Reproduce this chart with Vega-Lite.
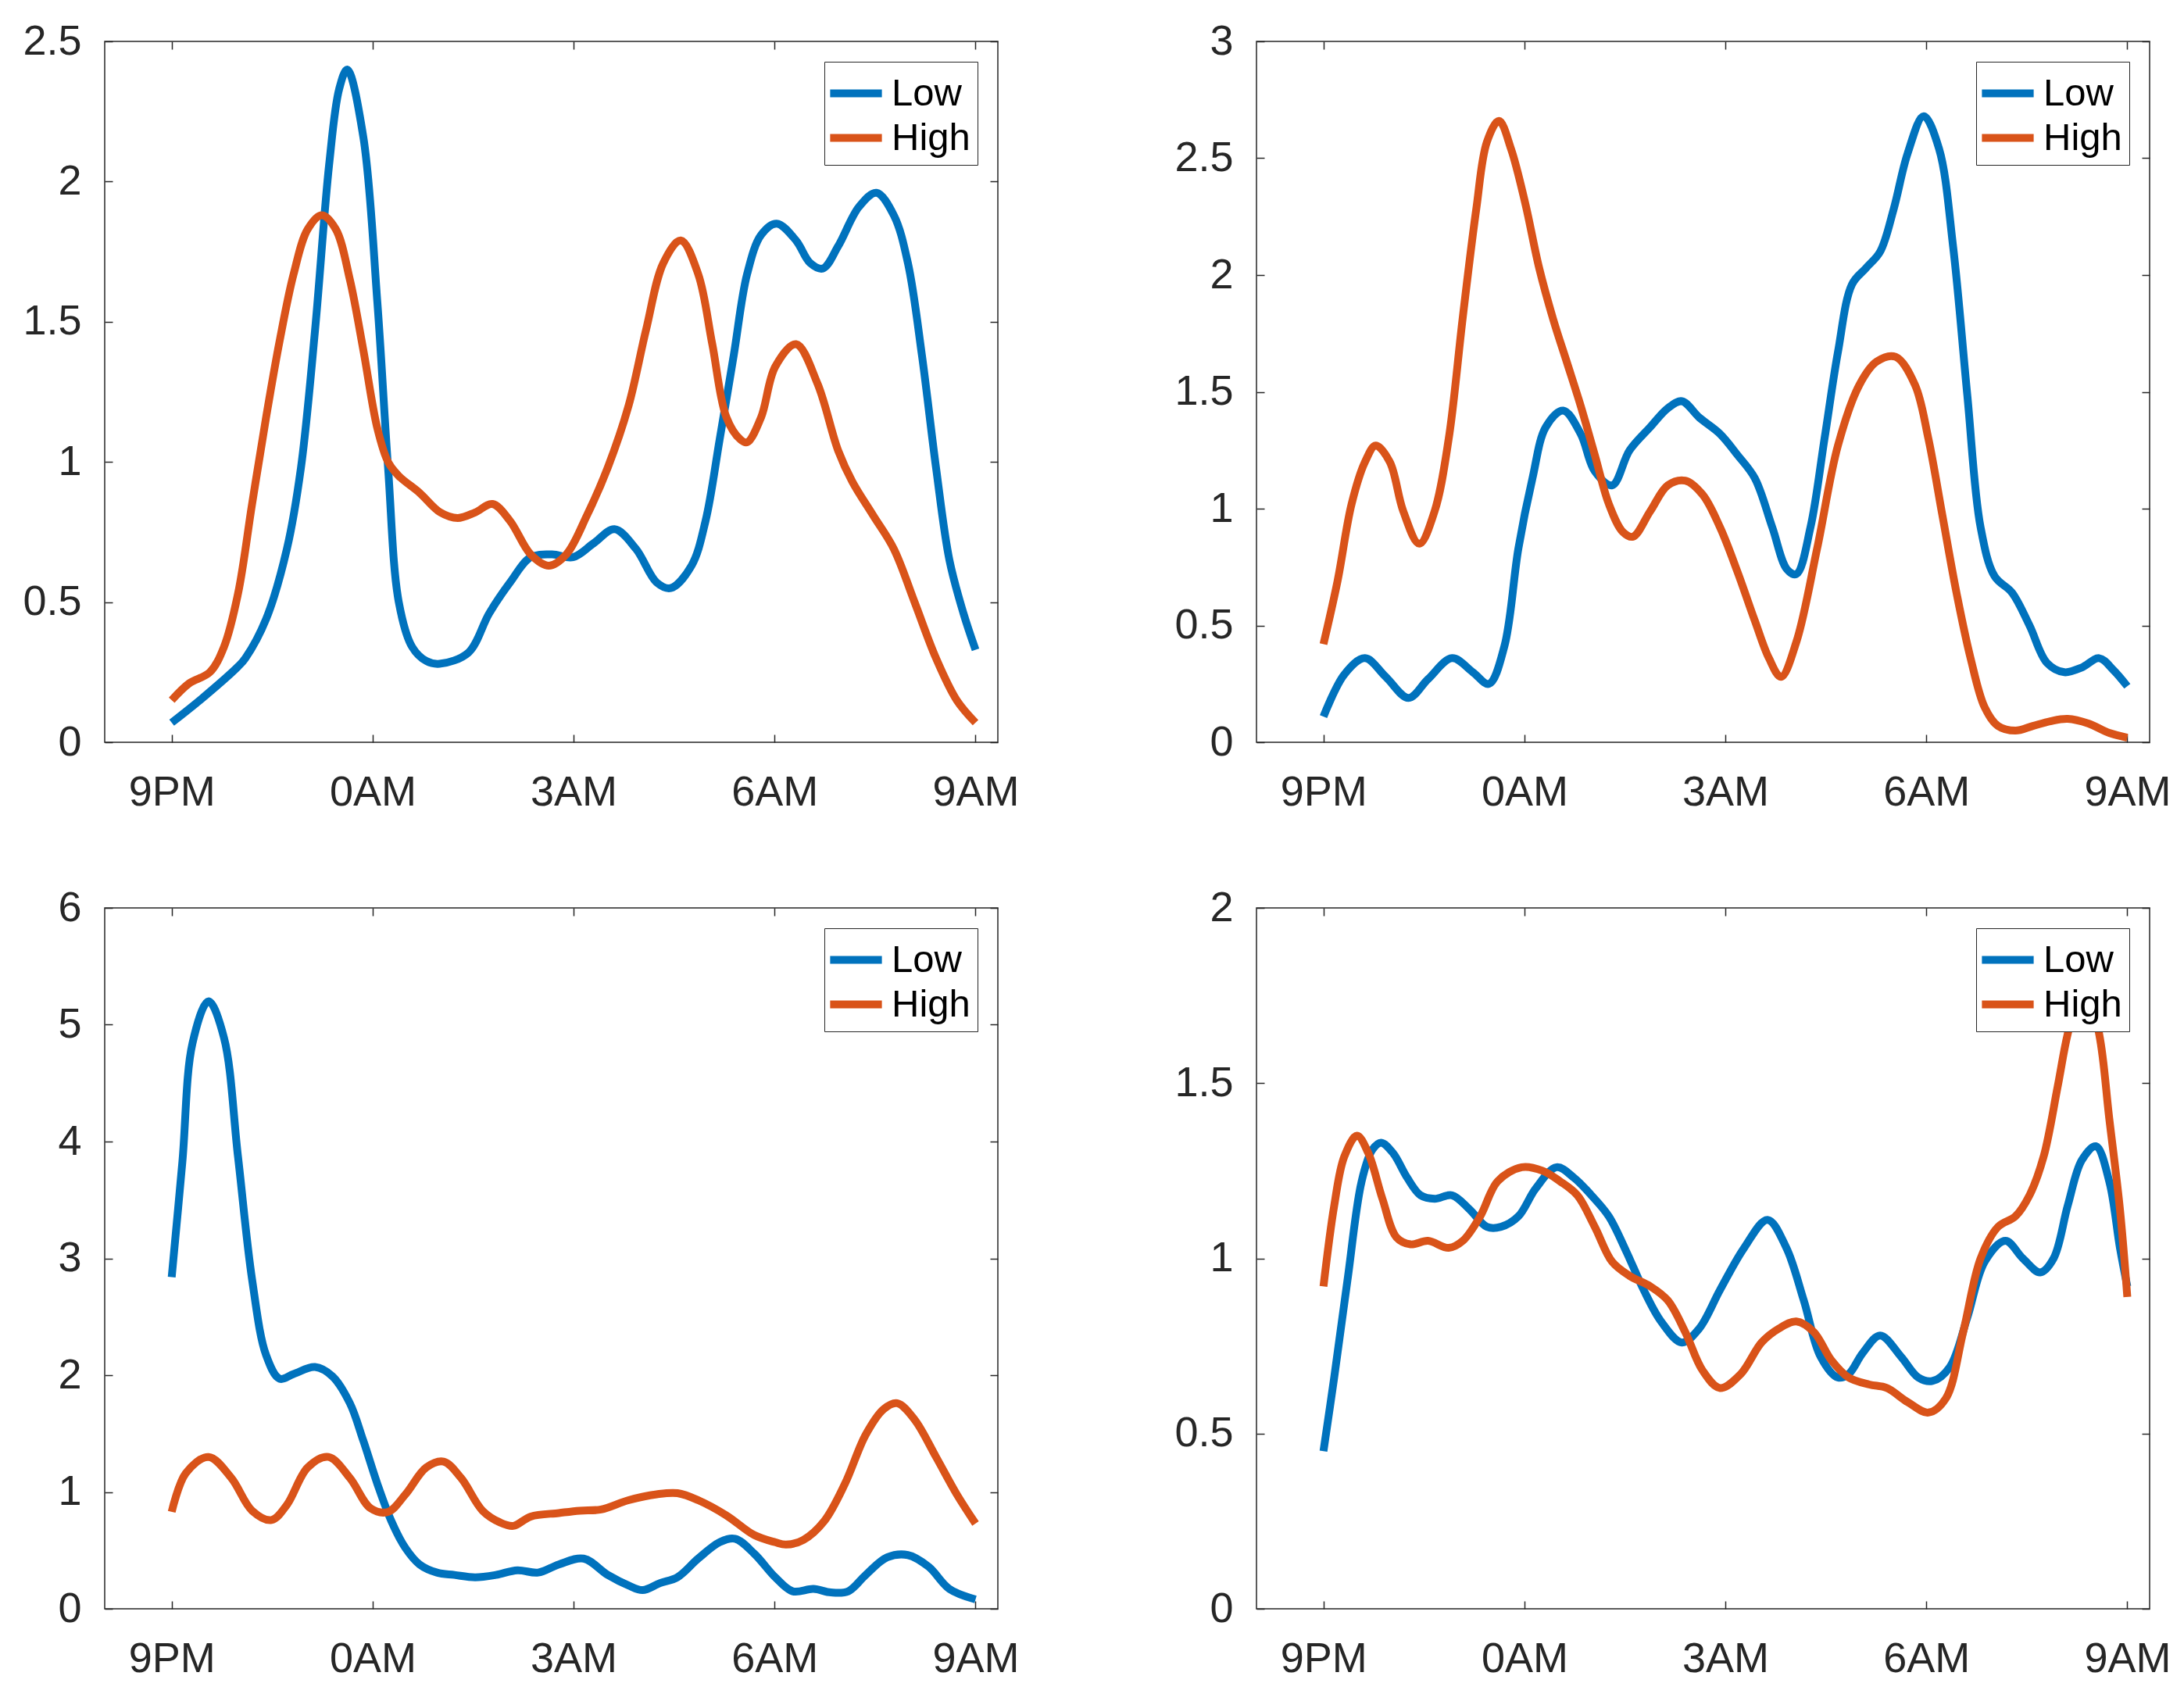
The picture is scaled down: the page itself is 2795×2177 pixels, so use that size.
{
  "$schema": "https://vega.github.io/schema/vega-lite/v6.json",
  "padding": {"left": 28, "top": 25, "right": 5, "bottom": 5},
  "background": "white",
  "bounds": "flush",
  "columns": 2,
  "spacing": {"row": 212, "column": 331},
  "resolve": {"scale": {"color": "independent"}},
  "config": {
    "font": "Liberation Sans",
    "view": {"stroke": "#262626", "strokeWidth": 1.5},
    "axis": {
      "domain": false,
      "grid": false,
      "tickSize": -10,
      "tickColor": "#262626",
      "tickWidth": 1.5,
      "labelFont": "Liberation Sans",
      "labelFontSize": 54,
      "labelColor": "#262626",
      "labelPadding": 40,
      "title": null
    },
    "axisX": {"labelPadding": 47},
    "legend": {
      "orient": "top-right",
      "offset": 26,
      "padding": 9,
      "strokeColor": "#262626",
      "fillColor": "white",
      "symbolType": "M-1.25,0H1.25",
      "symbolStrokeWidth": 10,
      "symbolSize": 2809,
      "labelFont": "Liberation Sans",
      "labelFontSize": 49,
      "labelColor": "black",
      "labelOffset": 14,
      "rowPadding": 0,
      "title": null
    }
  },
  "datasets": {
    "curves": [
      {"p":"a","s":"Low","h":0,"v":0.07},{"p":"a","s":"Low","h":0.47,"v":0.16},{"p":"a","s":"Low","h":0.99,"v":0.27},{"p":"a","s":"Low","h":1.1,"v":0.3},{"p":"a","s":"Low","h":1.41,"v":0.44},{"p":"a","s":"Low","h":1.72,"v":0.69},{"p":"a","s":"Low","h":1.93,"v":0.98},{"p":"a","s":"Low","h":2.14,"v":1.47},{"p":"a","s":"Low","h":2.35,"v":2.06},{"p":"a","s":"Low","h":2.5,"v":2.33},{"p":"a","s":"Low","h":2.62,"v":2.4},{"p":"a","s":"Low","h":2.86,"v":2.16},{"p":"a","s":"Low","h":3.07,"v":1.57},{"p":"a","s":"Low","h":3.23,"v":0.98},{"p":"a","s":"Low","h":3.39,"v":0.5},{"p":"a","s":"Low","h":3.59,"v":0.34},{"p":"a","s":"Low","h":3.8,"v":0.29},{"p":"a","s":"Low","h":4.0,"v":0.28},{"p":"a","s":"Low","h":4.43,"v":0.32},{"p":"a","s":"Low","h":4.74,"v":0.46},{"p":"a","s":"Low","h":5.05,"v":0.57},{"p":"a","s":"Low","h":5.36,"v":0.66},{"p":"a","s":"Low","h":5.68,"v":0.67},{"p":"a","s":"Low","h":5.99,"v":0.66},{"p":"a","s":"Low","h":6.3,"v":0.71},{"p":"a","s":"Low","h":6.61,"v":0.76},{"p":"a","s":"Low","h":6.93,"v":0.69},{"p":"a","s":"Low","h":7.24,"v":0.57},{"p":"a","s":"Low","h":7.45,"v":0.55},{"p":"a","s":"Low","h":7.76,"v":0.63},{"p":"a","s":"Low","h":7.97,"v":0.79},{"p":"a","s":"Low","h":8.18,"v":1.08},{"p":"a","s":"Low","h":8.39,"v":1.38},{"p":"a","s":"Low","h":8.59,"v":1.67},{"p":"a","s":"Low","h":8.8,"v":1.81},{"p":"a","s":"Low","h":9.03,"v":1.85},{"p":"a","s":"Low","h":9.32,"v":1.79},{"p":"a","s":"Low","h":9.53,"v":1.71},{"p":"a","s":"Low","h":9.72,"v":1.69},{"p":"a","s":"Low","h":9.95,"v":1.77},{"p":"a","s":"Low","h":10.26,"v":1.91},{"p":"a","s":"Low","h":10.52,"v":1.96},{"p":"a","s":"Low","h":10.78,"v":1.88},{"p":"a","s":"Low","h":10.99,"v":1.71},{"p":"a","s":"Low","h":11.2,"v":1.38},{"p":"a","s":"Low","h":11.41,"v":0.98},{"p":"a","s":"Low","h":11.61,"v":0.65},{"p":"a","s":"Low","h":11.82,"v":0.46},{"p":"a","s":"Low","h":12.0,"v":0.33},
      {"p":"a","s":"High","h":0,"v":0.15},{"p":"a","s":"High","h":0.26,"v":0.21},{"p":"a","s":"High","h":0.57,"v":0.25},{"p":"a","s":"High","h":0.78,"v":0.34},{"p":"a","s":"High","h":0.99,"v":0.53},{"p":"a","s":"High","h":1.2,"v":0.85},{"p":"a","s":"High","h":1.41,"v":1.16},{"p":"a","s":"High","h":1.61,"v":1.43},{"p":"a","s":"High","h":1.82,"v":1.67},{"p":"a","s":"High","h":2.03,"v":1.83},{"p":"a","s":"High","h":2.24,"v":1.88},{"p":"a","s":"High","h":2.45,"v":1.83},{"p":"a","s":"High","h":2.66,"v":1.65},{"p":"a","s":"High","h":2.86,"v":1.4},{"p":"a","s":"High","h":3.07,"v":1.12},{"p":"a","s":"High","h":3.23,"v":1.0},{"p":"a","s":"High","h":3.39,"v":0.95},{"p":"a","s":"High","h":3.7,"v":0.89},{"p":"a","s":"High","h":4.01,"v":0.82},{"p":"a","s":"High","h":4.27,"v":0.8},{"p":"a","s":"High","h":4.53,"v":0.82},{"p":"a","s":"High","h":4.79,"v":0.85},{"p":"a","s":"High","h":5.05,"v":0.79},{"p":"a","s":"High","h":5.36,"v":0.67},{"p":"a","s":"High","h":5.63,"v":0.63},{"p":"a","s":"High","h":5.89,"v":0.67},{"p":"a","s":"High","h":6.2,"v":0.81},{"p":"a","s":"High","h":6.51,"v":0.98},{"p":"a","s":"High","h":6.82,"v":1.2},{"p":"a","s":"High","h":7.08,"v":1.47},{"p":"a","s":"High","h":7.34,"v":1.71},{"p":"a","s":"High","h":7.6,"v":1.79},{"p":"a","s":"High","h":7.86,"v":1.67},{"p":"a","s":"High","h":8.07,"v":1.42},{"p":"a","s":"High","h":8.28,"v":1.16},{"p":"a","s":"High","h":8.49,"v":1.08},{"p":"a","s":"High","h":8.59,"v":1.07},{"p":"a","s":"High","h":8.8,"v":1.16},{"p":"a","s":"High","h":9.01,"v":1.34},{"p":"a","s":"High","h":9.32,"v":1.42},{"p":"a","s":"High","h":9.64,"v":1.28},{"p":"a","s":"High","h":9.95,"v":1.04},{"p":"a","s":"High","h":10.16,"v":0.93},{"p":"a","s":"High","h":10.47,"v":0.81},{"p":"a","s":"High","h":10.78,"v":0.69},{"p":"a","s":"High","h":11.09,"v":0.5},{"p":"a","s":"High","h":11.41,"v":0.3},{"p":"a","s":"High","h":11.72,"v":0.15},{"p":"a","s":"High","h":12.0,"v":0.07},
      {"p":"b","s":"Low","h":0,"v":0.11},{"p":"b","s":"Low","h":0.31,"v":0.29},{"p":"b","s":"Low","h":0.62,"v":0.36},{"p":"b","s":"Low","h":0.93,"v":0.28},{"p":"b","s":"Low","h":1.27,"v":0.19},{"p":"b","s":"Low","h":1.56,"v":0.27},{"p":"b","s":"Low","h":1.92,"v":0.36},{"p":"b","s":"Low","h":2.23,"v":0.3},{"p":"b","s":"Low","h":2.47,"v":0.25},{"p":"b","s":"Low","h":2.7,"v":0.41},{"p":"b","s":"Low","h":2.91,"v":0.83},{"p":"b","s":"Low","h":3.12,"v":1.13},{"p":"b","s":"Low","h":3.32,"v":1.35},{"p":"b","s":"Low","h":3.58,"v":1.42},{"p":"b","s":"Low","h":3.84,"v":1.32},{"p":"b","s":"Low","h":4.05,"v":1.16},{"p":"b","s":"Low","h":4.31,"v":1.1},{"p":"b","s":"Low","h":4.57,"v":1.25},{"p":"b","s":"Low","h":4.88,"v":1.35},{"p":"b","s":"Low","h":5.14,"v":1.43},{"p":"b","s":"Low","h":5.35,"v":1.46},{"p":"b","s":"Low","h":5.61,"v":1.39},{"p":"b","s":"Low","h":5.92,"v":1.32},{"p":"b","s":"Low","h":6.18,"v":1.23},{"p":"b","s":"Low","h":6.44,"v":1.13},{"p":"b","s":"Low","h":6.7,"v":0.92},{"p":"b","s":"Low","h":6.92,"v":0.74},{"p":"b","s":"Low","h":7.06,"v":0.72},{"p":"b","s":"Low","h":7.27,"v":0.92},{"p":"b","s":"Low","h":7.48,"v":1.3},{"p":"b","s":"Low","h":7.68,"v":1.67},{"p":"b","s":"Low","h":7.89,"v":1.96},{"p":"b","s":"Low","h":8.1,"v":2.03},{"p":"b","s":"Low","h":8.31,"v":2.1},{"p":"b","s":"Low","h":8.51,"v":2.28},{"p":"b","s":"Low","h":8.72,"v":2.52},{"p":"b","s":"Low","h":8.96,"v":2.68},{"p":"b","s":"Low","h":9.19,"v":2.54},{"p":"b","s":"Low","h":9.4,"v":2.12},{"p":"b","s":"Low","h":9.61,"v":1.49},{"p":"b","s":"Low","h":9.81,"v":0.92},{"p":"b","s":"Low","h":10.02,"v":0.71},{"p":"b","s":"Low","h":10.28,"v":0.64},{"p":"b","s":"Low","h":10.54,"v":0.5},{"p":"b","s":"Low","h":10.8,"v":0.34},{"p":"b","s":"Low","h":11.06,"v":0.3},{"p":"b","s":"Low","h":11.32,"v":0.32},{"p":"b","s":"Low","h":11.58,"v":0.36},{"p":"b","s":"Low","h":11.79,"v":0.31},{"p":"b","s":"Low","h":12.0,"v":0.24},
      {"p":"b","s":"High","h":0,"v":0.42},{"p":"b","s":"High","h":0.21,"v":0.69},{"p":"b","s":"High","h":0.42,"v":1.02},{"p":"b","s":"High","h":0.62,"v":1.2},{"p":"b","s":"High","h":0.78,"v":1.27},{"p":"b","s":"High","h":0.99,"v":1.2},{"p":"b","s":"High","h":1.19,"v":0.99},{"p":"b","s":"High","h":1.43,"v":0.85},{"p":"b","s":"High","h":1.66,"v":0.99},{"p":"b","s":"High","h":1.87,"v":1.3},{"p":"b","s":"High","h":2.08,"v":1.82},{"p":"b","s":"High","h":2.28,"v":2.28},{"p":"b","s":"High","h":2.44,"v":2.57},{"p":"b","s":"High","h":2.62,"v":2.66},{"p":"b","s":"High","h":2.8,"v":2.54},{"p":"b","s":"High","h":3.01,"v":2.31},{"p":"b","s":"High","h":3.22,"v":2.03},{"p":"b","s":"High","h":3.43,"v":1.81},{"p":"b","s":"High","h":3.63,"v":1.63},{"p":"b","s":"High","h":3.84,"v":1.44},{"p":"b","s":"High","h":4.05,"v":1.23},{"p":"b","s":"High","h":4.26,"v":1.02},{"p":"b","s":"High","h":4.47,"v":0.9},{"p":"b","s":"High","h":4.62,"v":0.88},{"p":"b","s":"High","h":4.88,"v":0.99},{"p":"b","s":"High","h":5.14,"v":1.1},{"p":"b","s":"High","h":5.4,"v":1.12},{"p":"b","s":"High","h":5.66,"v":1.06},{"p":"b","s":"High","h":5.92,"v":0.92},{"p":"b","s":"High","h":6.18,"v":0.73},{"p":"b","s":"High","h":6.44,"v":0.52},{"p":"b","s":"High","h":6.65,"v":0.36},{"p":"b","s":"High","h":6.83,"v":0.28},{"p":"b","s":"High","h":7.06,"v":0.43},{"p":"b","s":"High","h":7.37,"v":0.83},{"p":"b","s":"High","h":7.68,"v":1.27},{"p":"b","s":"High","h":8.0,"v":1.53},{"p":"b","s":"High","h":8.26,"v":1.63},{"p":"b","s":"High","h":8.54,"v":1.65},{"p":"b","s":"High","h":8.83,"v":1.53},{"p":"b","s":"High","h":9.03,"v":1.3},{"p":"b","s":"High","h":9.24,"v":0.97},{"p":"b","s":"High","h":9.45,"v":0.64},{"p":"b","s":"High","h":9.66,"v":0.36},{"p":"b","s":"High","h":9.87,"v":0.15},{"p":"b","s":"High","h":10.07,"v":0.07},{"p":"b","s":"High","h":10.33,"v":0.05},{"p":"b","s":"High","h":10.59,"v":0.07},{"p":"b","s":"High","h":10.85,"v":0.09},{"p":"b","s":"High","h":11.11,"v":0.1},{"p":"b","s":"High","h":11.42,"v":0.08},{"p":"b","s":"High","h":11.73,"v":0.04},{"p":"b","s":"High","h":12.0,"v":0.02},
      {"p":"c","s":"Low","h":0,"v":2.84},{"p":"c","s":"Low","h":0.16,"v":3.83},{"p":"c","s":"Low","h":0.31,"v":4.84},{"p":"c","s":"Low","h":0.55,"v":5.2},{"p":"c","s":"Low","h":0.78,"v":4.89},{"p":"c","s":"Low","h":0.99,"v":3.87},{"p":"c","s":"Low","h":1.2,"v":2.82},{"p":"c","s":"Low","h":1.41,"v":2.17},{"p":"c","s":"Low","h":1.61,"v":1.97},{"p":"c","s":"Low","h":1.82,"v":2.01},{"p":"c","s":"Low","h":2.14,"v":2.07},{"p":"c","s":"Low","h":2.4,"v":1.99},{"p":"c","s":"Low","h":2.66,"v":1.76},{"p":"c","s":"Low","h":2.86,"v":1.44},{"p":"c","s":"Low","h":3.07,"v":1.07},{"p":"c","s":"Low","h":3.28,"v":0.75},{"p":"c","s":"Low","h":3.49,"v":0.52},{"p":"c","s":"Low","h":3.7,"v":0.38},{"p":"c","s":"Low","h":3.96,"v":0.31},{"p":"c","s":"Low","h":4.22,"v":0.29},{"p":"c","s":"Low","h":4.53,"v":0.27},{"p":"c","s":"Low","h":4.84,"v":0.29},{"p":"c","s":"Low","h":5.16,"v":0.33},{"p":"c","s":"Low","h":5.47,"v":0.31},{"p":"c","s":"Low","h":5.78,"v":0.38},{"p":"c","s":"Low","h":6.15,"v":0.43},{"p":"c","s":"Low","h":6.51,"v":0.29},{"p":"c","s":"Low","h":6.82,"v":0.2},{"p":"c","s":"Low","h":7.03,"v":0.16},{"p":"c","s":"Low","h":7.29,"v":0.22},{"p":"c","s":"Low","h":7.55,"v":0.27},{"p":"c","s":"Low","h":7.86,"v":0.43},{"p":"c","s":"Low","h":8.18,"v":0.57},{"p":"c","s":"Low","h":8.41,"v":0.6},{"p":"c","s":"Low","h":8.7,"v":0.47},{"p":"c","s":"Low","h":9.01,"v":0.27},{"p":"c","s":"Low","h":9.27,"v":0.15},{"p":"c","s":"Low","h":9.58,"v":0.17},{"p":"c","s":"Low","h":9.84,"v":0.14},{"p":"c","s":"Low","h":10.1,"v":0.15},{"p":"c","s":"Low","h":10.36,"v":0.29},{"p":"c","s":"Low","h":10.68,"v":0.44},{"p":"c","s":"Low","h":10.99,"v":0.46},{"p":"c","s":"Low","h":11.3,"v":0.36},{"p":"c","s":"Low","h":11.61,"v":0.17},{"p":"c","s":"Low","h":12.0,"v":0.08},
      {"p":"c","s":"High","h":0,"v":0.83},{"p":"c","s":"High","h":0.21,"v":1.16},{"p":"c","s":"High","h":0.55,"v":1.3},{"p":"c","s":"High","h":0.89,"v":1.12},{"p":"c","s":"High","h":1.2,"v":0.84},{"p":"c","s":"High","h":1.49,"v":0.76},{"p":"c","s":"High","h":1.72,"v":0.89},{"p":"c","s":"High","h":2.03,"v":1.21},{"p":"c","s":"High","h":2.34,"v":1.3},{"p":"c","s":"High","h":2.66,"v":1.12},{"p":"c","s":"High","h":2.97,"v":0.86},{"p":"c","s":"High","h":3.23,"v":0.83},{"p":"c","s":"High","h":3.49,"v":0.98},{"p":"c","s":"High","h":3.8,"v":1.21},{"p":"c","s":"High","h":4.06,"v":1.26},{"p":"c","s":"High","h":4.32,"v":1.12},{"p":"c","s":"High","h":4.64,"v":0.84},{"p":"c","s":"High","h":4.9,"v":0.74},{"p":"c","s":"High","h":5.1,"v":0.71},{"p":"c","s":"High","h":5.36,"v":0.79},{"p":"c","s":"High","h":5.78,"v":0.82},{"p":"c","s":"High","h":6.09,"v":0.84},{"p":"c","s":"High","h":6.41,"v":0.85},{"p":"c","s":"High","h":6.82,"v":0.93},{"p":"c","s":"High","h":7.24,"v":0.98},{"p":"c","s":"High","h":7.55,"v":0.99},{"p":"c","s":"High","h":7.86,"v":0.93},{"p":"c","s":"High","h":8.28,"v":0.8},{"p":"c","s":"High","h":8.7,"v":0.63},{"p":"c","s":"High","h":9.01,"v":0.57},{"p":"c","s":"High","h":9.17,"v":0.55},{"p":"c","s":"High","h":9.43,"v":0.59},{"p":"c","s":"High","h":9.74,"v":0.75},{"p":"c","s":"High","h":10.05,"v":1.07},{"p":"c","s":"High","h":10.36,"v":1.49},{"p":"c","s":"High","h":10.63,"v":1.71},{"p":"c","s":"High","h":10.83,"v":1.76},{"p":"c","s":"High","h":11.09,"v":1.62},{"p":"c","s":"High","h":11.41,"v":1.3},{"p":"c","s":"High","h":11.72,"v":0.98},{"p":"c","s":"High","h":12.0,"v":0.73},
      {"p":"d","s":"Low","h":0,"v":0.45},{"p":"d","s":"Low","h":0.16,"v":0.66},{"p":"d","s":"Low","h":0.36,"v":0.94},{"p":"d","s":"Low","h":0.57,"v":1.22},{"p":"d","s":"Low","h":0.73,"v":1.31},{"p":"d","s":"Low","h":0.86,"v":1.33},{"p":"d","s":"Low","h":1.04,"v":1.3},{"p":"d","s":"Low","h":1.25,"v":1.23},{"p":"d","s":"Low","h":1.45,"v":1.18},{"p":"d","s":"Low","h":1.66,"v":1.17},{"p":"d","s":"Low","h":1.92,"v":1.18},{"p":"d","s":"Low","h":2.18,"v":1.14},{"p":"d","s":"Low","h":2.44,"v":1.09},{"p":"d","s":"Low","h":2.65,"v":1.09},{"p":"d","s":"Low","h":2.91,"v":1.12},{"p":"d","s":"Low","h":3.17,"v":1.2},{"p":"d","s":"Low","h":3.48,"v":1.26},{"p":"d","s":"Low","h":3.74,"v":1.23},{"p":"d","s":"Low","h":4.0,"v":1.18},{"p":"d","s":"Low","h":4.26,"v":1.12},{"p":"d","s":"Low","h":4.52,"v":1.02},{"p":"d","s":"Low","h":4.78,"v":0.91},{"p":"d","s":"Low","h":5.04,"v":0.82},{"p":"d","s":"Low","h":5.35,"v":0.76},{"p":"d","s":"Low","h":5.61,"v":0.8},{"p":"d","s":"Low","h":5.92,"v":0.91},{"p":"d","s":"Low","h":6.28,"v":1.03},{"p":"d","s":"Low","h":6.63,"v":1.11},{"p":"d","s":"Low","h":6.91,"v":1.03},{"p":"d","s":"Low","h":7.17,"v":0.88},{"p":"d","s":"Low","h":7.42,"v":0.72},{"p":"d","s":"Low","h":7.68,"v":0.66},{"p":"d","s":"Low","h":7.84,"v":0.67},{"p":"d","s":"Low","h":8.05,"v":0.73},{"p":"d","s":"Low","h":8.31,"v":0.78},{"p":"d","s":"Low","h":8.62,"v":0.72},{"p":"d","s":"Low","h":8.88,"v":0.66},{"p":"d","s":"Low","h":9.09,"v":0.65},{"p":"d","s":"Low","h":9.35,"v":0.69},{"p":"d","s":"Low","h":9.61,"v":0.83},{"p":"d","s":"Low","h":9.87,"v":0.99},{"p":"d","s":"Low","h":10.18,"v":1.05},{"p":"d","s":"Low","h":10.44,"v":1.0},{"p":"d","s":"Low","h":10.7,"v":0.96},{"p":"d","s":"Low","h":10.9,"v":1.0},{"p":"d","s":"Low","h":11.11,"v":1.15},{"p":"d","s":"Low","h":11.32,"v":1.28},{"p":"d","s":"Low","h":11.53,"v":1.32},{"p":"d","s":"Low","h":11.73,"v":1.22},{"p":"d","s":"Low","h":11.89,"v":1.03},{"p":"d","s":"Low","h":12.0,"v":0.92},
      {"p":"d","s":"High","h":0,"v":0.92},{"p":"d","s":"High","h":0.16,"v":1.15},{"p":"d","s":"High","h":0.31,"v":1.29},{"p":"d","s":"High","h":0.5,"v":1.35},{"p":"d","s":"High","h":0.67,"v":1.3},{"p":"d","s":"High","h":0.88,"v":1.17},{"p":"d","s":"High","h":1.09,"v":1.06},{"p":"d","s":"High","h":1.3,"v":1.04},{"p":"d","s":"High","h":1.56,"v":1.05},{"p":"d","s":"High","h":1.87,"v":1.03},{"p":"d","s":"High","h":2.08,"v":1.05},{"p":"d","s":"High","h":2.34,"v":1.12},{"p":"d","s":"High","h":2.6,"v":1.22},{"p":"d","s":"High","h":2.96,"v":1.26},{"p":"d","s":"High","h":3.27,"v":1.25},{"p":"d","s":"High","h":3.53,"v":1.22},{"p":"d","s":"High","h":3.79,"v":1.18},{"p":"d","s":"High","h":4.05,"v":1.09},{"p":"d","s":"High","h":4.31,"v":0.99},{"p":"d","s":"High","h":4.57,"v":0.95},{"p":"d","s":"High","h":4.88,"v":0.92},{"p":"d","s":"High","h":5.14,"v":0.88},{"p":"d","s":"High","h":5.4,"v":0.79},{"p":"d","s":"High","h":5.66,"v":0.68},{"p":"d","s":"High","h":5.92,"v":0.63},{"p":"d","s":"High","h":6.23,"v":0.67},{"p":"d","s":"High","h":6.54,"v":0.76},{"p":"d","s":"High","h":6.8,"v":0.8},{"p":"d","s":"High","h":7.06,"v":0.82},{"p":"d","s":"High","h":7.32,"v":0.79},{"p":"d","s":"High","h":7.58,"v":0.71},{"p":"d","s":"High","h":7.84,"v":0.66},{"p":"d","s":"High","h":8.15,"v":0.64},{"p":"d","s":"High","h":8.41,"v":0.63},{"p":"d","s":"High","h":8.72,"v":0.59},{"p":"d","s":"High","h":9.03,"v":0.56},{"p":"d","s":"High","h":9.29,"v":0.6},{"p":"d","s":"High","h":9.55,"v":0.79},{"p":"d","s":"High","h":9.81,"v":1.0},{"p":"d","s":"High","h":10.07,"v":1.09},{"p":"d","s":"High","h":10.33,"v":1.12},{"p":"d","s":"High","h":10.54,"v":1.18},{"p":"d","s":"High","h":10.75,"v":1.29},{"p":"d","s":"High","h":10.96,"v":1.49},{"p":"d","s":"High","h":11.11,"v":1.64},{"p":"d","s":"High","h":11.35,"v":1.8},{"p":"d","s":"High","h":11.58,"v":1.64},{"p":"d","s":"High","h":11.73,"v":1.4},{"p":"d","s":"High","h":11.89,"v":1.14},{"p":"d","s":"High","h":12.0,"v":0.89}
    ]
  },
  "concat": [
    {
      "width": 1143, "height": 897,
      "data": {"name": "curves"},
      "transform": [{"filter": "datum.p == 'a'"}],
      "layer": [
        {
          "transform": [{"filter": "datum.s == 'Low'"}],
          "mark": {"type": "line", "interpolate": "catmull-rom", "strokeWidth": 10},
          "encoding": {
            "x": {"field": "h", "type": "quantitative", "scale": {"domain": [-1, 12.333]}, "axis": {"orient": "bottom", "values": [0, 3, 6, 9, 12], "labelExpr": "['9PM','0AM','3AM','6AM','9AM'][datum.value / 3]"}},
            "y": {"field": "v", "type": "quantitative", "scale": {"domain": [0, 2.5]}, "axis": {"orient": "left", "values": [0, 0.5, 1, 1.5, 2, 2.5], "format": "~g"}},
            "color": {"field": "s", "type": "nominal", "scale": {"domain": ["Low", "High"], "range": ["#0072BD", "#D95319"]}}
          }
        },
        {
          "transform": [{"filter": "datum.s == 'High'"}],
          "mark": {"type": "line", "interpolate": "catmull-rom", "strokeWidth": 10},
          "encoding": {
            "x": {"field": "h", "type": "quantitative", "scale": {"domain": [-1, 12.333]}, "axis": {"orient": "top", "values": [0, 3, 6, 9, 12], "labels": false}},
            "y": {"field": "v", "type": "quantitative", "scale": {"domain": [0, 2.5]}, "axis": {"orient": "right", "values": [0, 0.5, 1, 1.5, 2, 2.5], "labels": false}},
            "color": {"field": "s", "type": "nominal", "scale": {"domain": ["Low", "High"], "range": ["#0072BD", "#D95319"]}}
          }
        }
      ],
      "resolve": {"axis": {"x": "independent", "y": "independent"}}
    },
    {
      "width": 1143, "height": 897,
      "data": {"name": "curves"},
      "transform": [{"filter": "datum.p == 'b'"}],
      "layer": [
        {
          "transform": [{"filter": "datum.s == 'Low'"}],
          "mark": {"type": "line", "interpolate": "catmull-rom", "strokeWidth": 10},
          "encoding": {
            "x": {"field": "h", "type": "quantitative", "scale": {"domain": [-1, 12.333]}, "axis": {"orient": "bottom", "values": [0, 3, 6, 9, 12], "labelExpr": "['9PM','0AM','3AM','6AM','9AM'][datum.value / 3]"}},
            "y": {"field": "v", "type": "quantitative", "scale": {"domain": [0, 3]}, "axis": {"orient": "left", "values": [0, 0.5, 1, 1.5, 2, 2.5, 3], "format": "~g"}},
            "color": {"field": "s", "type": "nominal", "scale": {"domain": ["Low", "High"], "range": ["#0072BD", "#D95319"]}}
          }
        },
        {
          "transform": [{"filter": "datum.s == 'High'"}],
          "mark": {"type": "line", "interpolate": "catmull-rom", "strokeWidth": 10},
          "encoding": {
            "x": {"field": "h", "type": "quantitative", "scale": {"domain": [-1, 12.333]}, "axis": {"orient": "top", "values": [0, 3, 6, 9, 12], "labels": false}},
            "y": {"field": "v", "type": "quantitative", "scale": {"domain": [0, 3]}, "axis": {"orient": "right", "values": [0, 0.5, 1, 1.5, 2, 2.5, 3], "labels": false}},
            "color": {"field": "s", "type": "nominal", "scale": {"domain": ["Low", "High"], "range": ["#0072BD", "#D95319"]}}
          }
        }
      ],
      "resolve": {"axis": {"x": "independent", "y": "independent"}}
    },
    {
      "width": 1143, "height": 897,
      "data": {"name": "curves"},
      "transform": [{"filter": "datum.p == 'c'"}],
      "layer": [
        {
          "transform": [{"filter": "datum.s == 'Low'"}],
          "mark": {"type": "line", "interpolate": "catmull-rom", "strokeWidth": 10},
          "encoding": {
            "x": {"field": "h", "type": "quantitative", "scale": {"domain": [-1, 12.333]}, "axis": {"orient": "bottom", "values": [0, 3, 6, 9, 12], "labelExpr": "['9PM','0AM','3AM','6AM','9AM'][datum.value / 3]"}},
            "y": {"field": "v", "type": "quantitative", "scale": {"domain": [0, 6]}, "axis": {"orient": "left", "values": [0, 1, 2, 3, 4, 5, 6], "format": "~g"}},
            "color": {"field": "s", "type": "nominal", "scale": {"domain": ["Low", "High"], "range": ["#0072BD", "#D95319"]}}
          }
        },
        {
          "transform": [{"filter": "datum.s == 'High'"}],
          "mark": {"type": "line", "interpolate": "catmull-rom", "strokeWidth": 10},
          "encoding": {
            "x": {"field": "h", "type": "quantitative", "scale": {"domain": [-1, 12.333]}, "axis": {"orient": "top", "values": [0, 3, 6, 9, 12], "labels": false}},
            "y": {"field": "v", "type": "quantitative", "scale": {"domain": [0, 6]}, "axis": {"orient": "right", "values": [0, 1, 2, 3, 4, 5, 6], "labels": false}},
            "color": {"field": "s", "type": "nominal", "scale": {"domain": ["Low", "High"], "range": ["#0072BD", "#D95319"]}}
          }
        }
      ],
      "resolve": {"axis": {"x": "independent", "y": "independent"}}
    },
    {
      "width": 1143, "height": 897,
      "data": {"name": "curves"},
      "transform": [{"filter": "datum.p == 'd'"}],
      "layer": [
        {
          "transform": [{"filter": "datum.s == 'Low'"}],
          "mark": {"type": "line", "interpolate": "catmull-rom", "strokeWidth": 10},
          "encoding": {
            "x": {"field": "h", "type": "quantitative", "scale": {"domain": [-1, 12.333]}, "axis": {"orient": "bottom", "values": [0, 3, 6, 9, 12], "labelExpr": "['9PM','0AM','3AM','6AM','9AM'][datum.value / 3]"}},
            "y": {"field": "v", "type": "quantitative", "scale": {"domain": [0, 2]}, "axis": {"orient": "left", "values": [0, 0.5, 1, 1.5, 2], "format": "~g"}},
            "color": {"field": "s", "type": "nominal", "scale": {"domain": ["Low", "High"], "range": ["#0072BD", "#D95319"]}}
          }
        },
        {
          "transform": [{"filter": "datum.s == 'High'"}],
          "mark": {"type": "line", "interpolate": "catmull-rom", "strokeWidth": 10},
          "encoding": {
            "x": {"field": "h", "type": "quantitative", "scale": {"domain": [-1, 12.333]}, "axis": {"orient": "top", "values": [0, 3, 6, 9, 12], "labels": false}},
            "y": {"field": "v", "type": "quantitative", "scale": {"domain": [0, 2]}, "axis": {"orient": "right", "values": [0, 0.5, 1, 1.5, 2], "labels": false}},
            "color": {"field": "s", "type": "nominal", "scale": {"domain": ["Low", "High"], "range": ["#0072BD", "#D95319"]}}
          }
        }
      ],
      "resolve": {"axis": {"x": "independent", "y": "independent"}}
    }
  ]
}
